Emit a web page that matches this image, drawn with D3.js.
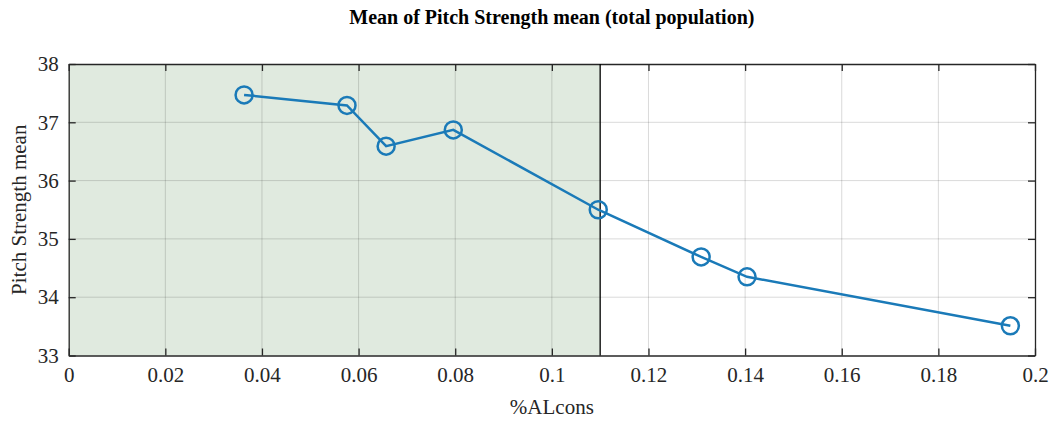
<!DOCTYPE html>
<html><head><meta charset="utf-8">
<script src="https://cdn.jsdelivr.net/npm/d3@7"></script>
<style>
body{margin:0;background:#fff;}
svg text{font-family:"Liberation Serif","Times New Roman",serif !important;}
</style></head><body>
<svg width="1055" height="423"></svg>
<script>
const xVals = [0.0363, 0.0576, 0.0657, 0.0796, 0.1096, 0.1309, 0.1404, 0.1949];
const yVals = [37.47, 37.29, 36.59, 36.87, 35.50, 34.69, 34.35, 33.51];
const xTicks = [0, 0.02, 0.04, 0.06, 0.08, 0.1, 0.12, 0.14, 0.16, 0.18, 0.2];
const yTicks = [33, 34, 35, 36, 37, 38];
const threshold = 0.11;

const pLeft = 68.7, pTop = 64, pRight = 1035, pBottom = 355.5;
const svg = d3.select("svg");
const x = d3.scaleLinear().domain([0, 0.2]).range([pLeft, pRight]);
const y = d3.scaleLinear().domain([33, 38]).range([pBottom, pTop]);

svg.append("rect").attr("x", x(0)).attr("y", pTop)
  .attr("width", x(threshold) - x(0)).attr("height", pBottom - pTop)
  .attr("fill", "#e0eadf");

// grid
svg.append("g").selectAll("line").data(xTicks.slice(1, -1)).enter().append("line")
  .attr("x1", d => x(d)).attr("x2", d => x(d)).attr("y1", pTop).attr("y2", pBottom)
  .attr("stroke", "#000").attr("stroke-opacity", 0.15);
svg.append("g").selectAll("line").data(yTicks.slice(1, -1)).enter().append("line")
  .attr("y1", d => y(d)).attr("y2", d => y(d)).attr("x1", pLeft).attr("x2", pRight)
  .attr("stroke", "#000").attr("stroke-opacity", 0.15);

// axes with inward ticks
const fmt = d => String(d);
const ax = svg.append("g").attr("transform", `translate(0,${pBottom})`)
  .call(d3.axisBottom(x).tickValues(xTicks).tickFormat(fmt).tickSizeInner(-7).tickSizeOuter(0).tickPadding(12));
const axT = svg.append("g").attr("transform", `translate(0,${pTop})`)
  .call(d3.axisTop(x).tickValues(xTicks).tickFormat("").tickSizeInner(-7).tickSizeOuter(0));
const ay = svg.append("g").attr("transform", `translate(${pLeft},0)`)
  .call(d3.axisLeft(y).tickValues(yTicks).tickFormat(fmt).tickSizeInner(-7).tickSizeOuter(0).tickPadding(10));
const ayR = svg.append("g").attr("transform", `translate(${pRight},0)`)
  .call(d3.axisRight(y).tickValues(yTicks).tickFormat("").tickSizeInner(-7).tickSizeOuter(0));
[ax, axT, ay, ayR].forEach(g => {
  g.attr("font-size", 21);
  g.selectAll("path,line").attr("stroke", "#262626").attr("stroke-width", 1.3);
  g.selectAll("text").attr("fill", "#262626");
});

svg.append("line").attr("x1", x(threshold)).attr("x2", x(threshold))
  .attr("y1", pTop).attr("y2", pBottom).attr("stroke", "#000").attr("stroke-width", 1.3);

const pts = xVals.map((v, i) => [v, yVals[i]]);
svg.append("path").datum(pts)
  .attr("fill", "none").attr("stroke", "#1a7ab8").attr("stroke-width", 2.5)
  .attr("d", d3.line().x(d => x(d[0])).y(d => y(d[1])));
svg.selectAll("circle.pt").data(pts).enter().append("circle")
  .attr("cx", d => x(d[0])).attr("cy", d => y(d[1])).attr("r", 8.5)
  .attr("fill", "none").attr("stroke", "#1a7ab8").attr("stroke-width", 2.5);

svg.append("text").attr("x", (pLeft + pRight) / 2).attr("y", 24)
  .attr("text-anchor", "middle").attr("font-size", 20).attr("font-weight", "bold")
  .attr("fill", "#000").text("Mean of Pitch Strength mean (total population)");
svg.append("text").attr("x", (pLeft + pRight) / 2).attr("y", 414)
  .attr("text-anchor", "middle").attr("font-size", 21).attr("fill", "#262626").text("%ALcons");
svg.append("text").attr("transform", `translate(26,${(pTop + pBottom) / 2}) rotate(-90)`)
  .attr("text-anchor", "middle").attr("font-size", 21).attr("fill", "#262626").text("Pitch Strength mean");
</script></body></html>
